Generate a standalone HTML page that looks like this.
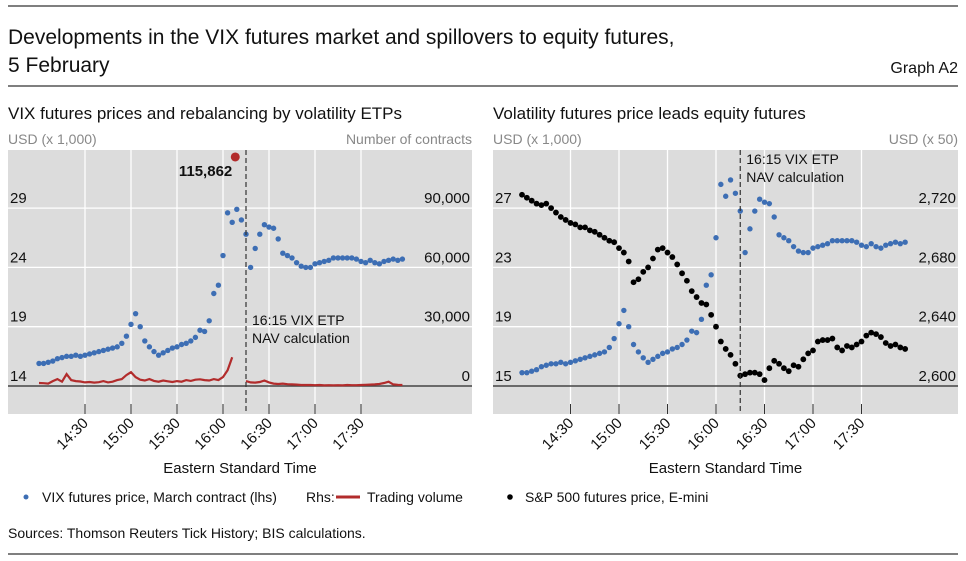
<!DOCTYPE html>
<html><head><meta charset="utf-8"><style>
body{margin:0;background:#fff}
svg{display:block;font-family:"Liberation Sans","DejaVu Sans",sans-serif}
</style></head><body>
<svg id="c" width="966" height="561" viewBox="0 0 966 561">
<line x1="8" y1="6" x2="958" y2="6" stroke="#333" stroke-width="1.2"/>
<text x="8" y="44" font-size="21" fill="#111">Developments in the VIX futures market and spillovers to equity futures,</text>
<text x="8" y="72" font-size="21" fill="#111">5 February</text>
<text x="958" y="73" font-size="16" text-anchor="end" fill="#111">Graph A2</text>
<line x1="8" y1="86" x2="958" y2="86" stroke="#333" stroke-width="1.2"/>
<text x="8" y="119" font-size="17" fill="#111">VIX futures prices and rebalancing by volatility ETPs</text>
<text x="493" y="119" font-size="17" fill="#111">Volatility futures price leads equity futures</text>
<text x="8" y="144" font-size="14" fill="#888">USD (x 1,000)</text>
<text x="472" y="144" font-size="14" fill="#888" text-anchor="end">Number of contracts</text>
<text x="493" y="144" font-size="14" fill="#888">USD (x 1,000)</text>
<text x="958" y="144" font-size="14" fill="#888" text-anchor="end">USD (x 50)</text>
<g id="L"></g><g id="R"></g>
<circle cx="26" cy="497" r="2.5" fill="#3d6eb4"/>
<text x="42" y="502" font-size="14" fill="#111">VIX futures price, March contract (lhs)</text>
<text x="306" y="502" font-size="14" fill="#111">Rhs:</text>
<line x1="336" y1="497" x2="360" y2="497" stroke="#b22c2c" stroke-width="3"/>
<text x="367" y="502" font-size="14" fill="#111">Trading volume</text>
<circle cx="510" cy="497" r="2.8" fill="#000"/>
<text x="525" y="502" font-size="14" fill="#111">S&amp;P 500 futures price, E-mini</text>
<text x="8" y="538" font-size="14" fill="#111">Sources: Thomson Reuters Tick History; BIS calculations.</text>
<line x1="8" y1="554" x2="958" y2="554" stroke="#333" stroke-width="1.2"/>
</svg>
<script>
const minutes=[];for(let m=0;m<=237;m+=3)minutes.push(m);
const vix=[15.9,15.9,16.0,16.1,16.3,16.4,16.5,16.5,16.6,16.5,16.6,16.7,16.8,16.9,17.0,17.1,17.2,17.3,17.6,18.2,19.2,20.1,19.0,17.8,17.3,16.9,16.6,16.8,17.0,17.2,17.3,17.5,17.6,17.8,18.1,18.7,18.6,19.5,21.8,22.5,25.0,28.6,27.8,28.9,28.0,26.8,24.0,25.6,26.8,27.6,27.4,27.3,26.4,25.2,25.0,24.8,24.4,24.1,24.0,24.0,24.3,24.4,24.5,24.6,24.8,24.8,24.8,24.8,24.8,24.7,24.5,24.4,24.6,24.4,24.3,24.5,24.6,24.7,24.6,24.7];
const volume=[1500,1400,1200,2500,3500,2200,6000,3000,2500,2300,1800,2000,1700,1900,2500,1800,2200,3000,3500,5500,7000,4500,3200,2800,3500,2600,2200,2800,2400,2000,2500,2200,3000,2600,3200,3400,3000,2800,3500,3000,4500,8000,14500,null,null,2500,1800,1700,2000,2800,1800,1200,1000,1200,900,800,700,500,500,500,400,500,300,400,300,400,300,500,400,400,500,600,700,800,1000,1500,2200,800,600,500];
const sp=[2729,2727,2725,2723,2722,2723,2720,2717,2714,2712,2710,2709,2707,2707,2705,2704,2702,2700,2698,2697,2693,2690,2684,2670,2672,2677,2680,2686,2692,2693,2690,2687,2682,2676,2671,2664,2660,2656,2655,2648,2640,2630,2625,2621,2615,2607,2608,2609,2609,2608,2604,2612,2617,2615,2612,2610,2614,2613,2618,2622,2624,2630,2631,2631,2632,2626,2624,2627,2626,2628,2630,2634,2636,2635,2633,2629,2627,2628,2626,2625];
const peakVolume=115862, peakMinute=128;
const tickLabels=["14:30","15:00","15:30","16:00","16:30","17:00","17:30"];
const tickMinutes=[30,60,90,120,150,180,210];
const leftLhsTicks=[14,19,24,29], leftRhsTicks=["0","30,000","60,000","90,000"];
const rightLhsTicks=[15,19,23,27], rightRhsTicks=["2,600","2,640","2,680","2,720"];
const NS="http://www.w3.org/2000/svg";
function mk(p,t,a){const e=document.createElementNS(NS,t);for(const k in a)e.setAttribute(k,a[k]);p.appendChild(e);return e;}
function panel(g,x0,x1,xs,lhsTicks,lhsY,rhsLabels,drawData,navY){
  const bg=mk(g,'rect',{x:x0,y:150,width:x1-x0,height:264,fill:'#dcdcdc'});
  
  tickMinutes.forEach((m,i)=>{const x=xs(m);
    const gl=mk(g,'line',{x1:x,y1:150,x2:x,y2:414,stroke:'#fff','stroke-width':1.3});
    
    const tk=mk(g,'line',{x1:x,y1:404,x2:x,y2:414,stroke:'#333','stroke-width':1});
    
    const t=mk(g,'text',{x:x+4,y:424,'font-size':15,'text-anchor':'end',fill:'#111',transform:`rotate(-45 ${x+4} 424)`});
    t.textContent=tickLabels[i];});
  lhsTicks.forEach((v,i)=>{const y=lhsY(v);
    if(i>0){const gl=mk(g,'line',{x1:x0,y1:y,x2:x1,y2:y,stroke:'#fff','stroke-width':1.3});
      }
    const t=mk(g,'text',{x:x0+2,y:y-5,'font-size':15,fill:'#111'});t.textContent=v;
    
    const r=mk(g,'text',{x:x1-2,y:y-5,'font-size':15,fill:'#111','text-anchor':'end'});r.textContent=rhsLabels[i];
    });
  const base=mk(g,'line',{x1:x0,y1:386,x2:x1,y2:386,stroke:'#444','stroke-width':1.5});
  
  drawData();
  const nx=xs(135);
  const d=mk(g,'line',{x1:nx,y1:150,x2:nx,y2:414,stroke:'#333','stroke-width':1.2,'stroke-dasharray':'5,3'});
  
  const a=mk(g,'text',{x:nx+6,y:navY,'font-size':14,fill:'#111'});a.textContent='16:15 VIX ETP';
  
  const b=mk(g,'text',{x:nx+6,y:navY+18,'font-size':14,fill:'#111'});b.textContent='NAV calculation';
  
  const tt=mk(g,'text',{x:(x0+x1)/2,y:473,'font-size':15,fill:'#111','text-anchor':'middle'});tt.textContent='Eastern Standard Time';
  
}
const Lg=document.getElementById('L');
const lx=m=>39+m*46/30, ly=v=>386-(v-14)*59.3/5, lv=v=>386-v*59.3/30000;
panel(Lg,8,472,lx,leftLhsTicks,ly,leftRhsTicks,()=>{
  let segs=[],cur=[];
  volume.forEach((v,i)=>{if(v===null){if(cur.length)segs.push(cur);cur=[];}else cur.push(lx(minutes[i]).toFixed(1)+','+lv(v).toFixed(1));});
  if(cur.length)segs.push(cur);
  segs.forEach(s=>{const p=mk(Lg,'polyline',{points:s.join(' '),fill:'none',stroke:'#b22c2c','stroke-width':2.2});
    });
  vix.forEach((v,i)=>{const c=mk(Lg,'circle',{cx:lx(minutes[i]),cy:ly(v),r:2.7,fill:'#3d6eb4'});
    });
  const pk=mk(Lg,'circle',{cx:lx(peakMinute),cy:lv(peakVolume),r:4.5,fill:'#b22c2c'});
  
  const pt=mk(Lg,'text',{x:lx(peakMinute)-3,y:lv(peakVolume)+19,'font-size':15,'font-weight':'bold',fill:'#111','text-anchor':'end'});
  pt.textContent=peakVolume.toLocaleString('en-US');
  
},325);
const Rg=document.getElementById('R');
const rx=m=>522+m*48.5/30, ry=v=>386-(v-15)*59.3/4, rs=p=>386-(p-2600)*59.3/40;
panel(Rg,493,958,rx,rightLhsTicks,ry,rightRhsTicks,()=>{
  vix.forEach((v,i)=>{const c=mk(Rg,'circle',{cx:rx(minutes[i]),cy:ry(v),r:2.7,fill:'#3d6eb4'});
    });
  sp.forEach((v,i)=>{const c=mk(Rg,'circle',{cx:rx(minutes[i]),cy:rs(v),r:2.9,fill:'#000'});
    });
},164);
</script>
</body></html>
